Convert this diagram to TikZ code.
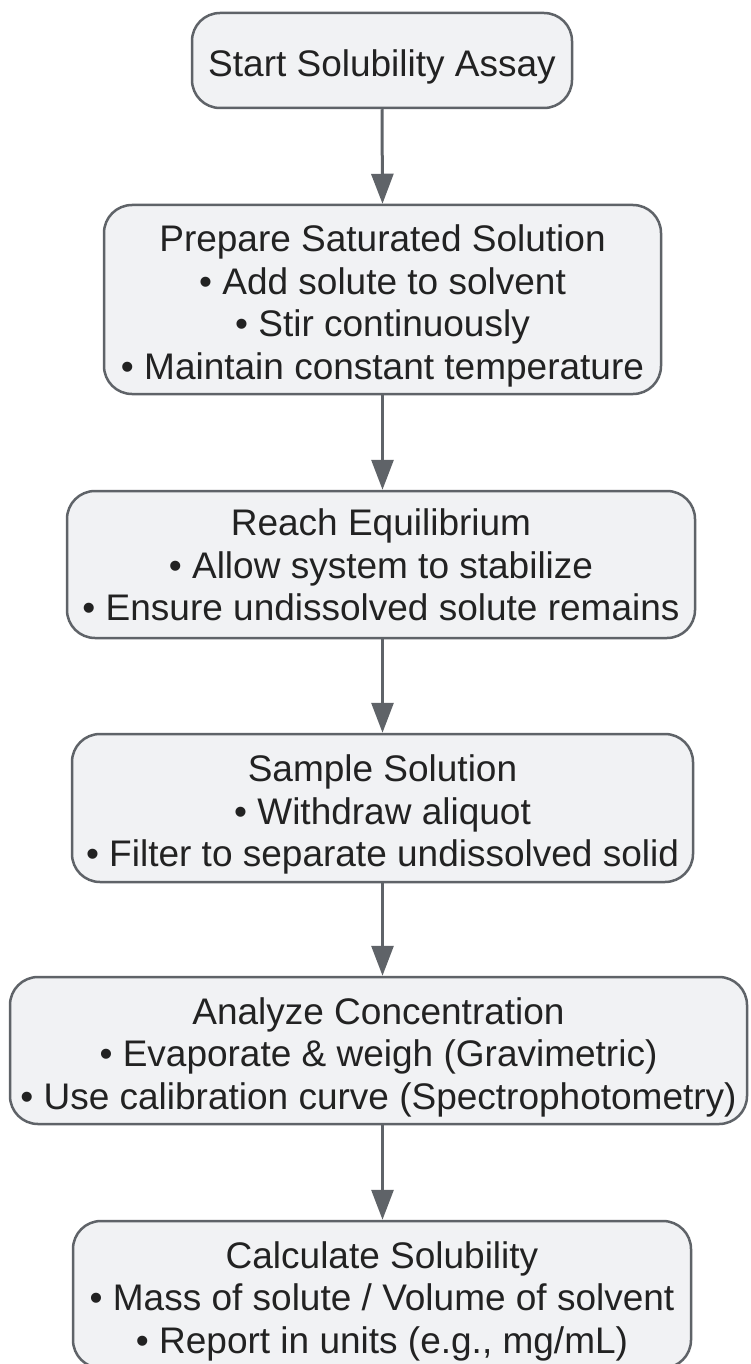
\documentclass[tikz,border=0pt]{standalone}
\usepackage{fontspec}
\setmainfont{Liberation Sans}
\usetikzlibrary{arrows.meta}
\definecolor{boxfill}{HTML}{F1F2F4}
\definecolor{boxline}{HTML}{5F6368}
\definecolor{txt}{HTML}{222222}
\newcommand\lnstrut[1][40pt]{\rule{0pt}{#1}}
\tikzset{
  stepbox/.style={draw=boxline, fill=boxfill, line width=2.5pt, rounded corners=28pt,
    align=center, text=txt, font=\fontsize{37}{42.5}\selectfont, inner sep=0pt},
  flowarrow/.style={draw=boxline, line width=3pt, -{Triangle[length=30pt,width=22pt]}}
}
\begin{document}
\begin{tikzpicture}[x=1pt,y=-1pt]
\useasboundingbox (0,0) rectangle (750,1364);
\node[stepbox, minimum width=380pt, minimum height=95pt] (n1) at (382,60.5) {\lnstrut[39pt]Start Solubility Assay};
\node[stepbox, minimum width=557pt, minimum height=189pt] (n2) at (382.5,299.5) {\lnstrut Prepare Saturated Solution\\ • Add solute to solvent\\ • Stir continuously\\ • Maintain constant temperature};
\node[stepbox, minimum width=628pt, minimum height=147pt] (n3) at (381,564.5) {\lnstrut[28pt]Reach Equilibrium\\ • Allow system to stabilize\\ • Ensure undissolved solute remains};
\node[stepbox, minimum width=621pt, minimum height=148pt] (n4) at (382.5,808) {\lnstrut Sample Solution\\ • Withdraw aliquot\\ • Filter to separate undissolved solid};
\node[stepbox, minimum width=737pt, minimum height=147pt] (n5) at (378.5,1050.5) {\lnstrut Analyze Concentration\\ • Evaporate \& weigh (Gravimetric)\\ • Use calibration curve (Spectrophotometry)};
\node[stepbox, minimum width=618pt, minimum height=147pt] (n6) at (382,1294.5) {\lnstrut Calculate Solubility\\ • Mass of solute / Volume of solvent\\ • Report in units (e.g., mg/mL)};
\draw[flowarrow] (n1.south) -- (n2.north);
\draw[flowarrow] (n2.south) -- (n2.south |- n3.north);
\draw[flowarrow] (n3.south -| n2.south) -- (n2.south |- n4.north);
\draw[flowarrow] (n4.south -| n2.south) -- (n2.south |- n5.north);
\draw[flowarrow] (n5.south -| n2.south) -- (n2.south |- n6.north);
\end{tikzpicture}
\end{document}
